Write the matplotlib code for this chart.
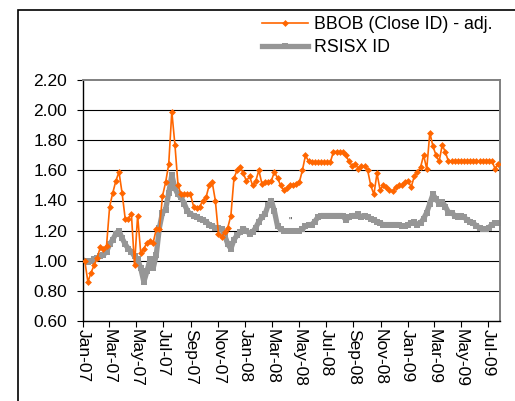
import matplotlib
matplotlib.use("Agg")
import matplotlib.pyplot as plt
from matplotlib.patches import Rectangle
import pandas as pd

plt.rcParams['font.family'] = ['Liberation Sans', 'DejaVu Sans']

# weekly observations
start_date = "2007-01-05"
n_weeks = 134

bbob = [1.00, 0.86, 0.92, 0.97, 1.02, 1.09, 1.08, 1.10, 1.36, 1.45,
        1.53, 1.59, 1.45, 1.28, 1.28, 1.31, 0.97, 1.30, 1.05, 1.08,
        1.12, 1.13, 1.12, 1.21, 1.21, 1.43, 1.52, 1.64, 1.99, 1.77,
        1.50, 1.44, 1.44, 1.44, 1.44, 1.36, 1.35, 1.36, 1.40, 1.42,
        1.50, 1.52, 1.40, 1.18, 1.16, 1.19, 1.22, 1.30, 1.55, 1.60,
        1.62, 1.58, 1.53, 1.56, 1.50, 1.53, 1.60, 1.51, 1.52, 1.52,
        1.53, 1.59, 1.55, 1.50, 1.47, 1.48, 1.50, 1.50, 1.51, 1.52,
        1.60, 1.70, 1.66, 1.655, 1.655, 1.655, 1.655, 1.655, 1.655, 1.655,
        1.725, 1.725, 1.72, 1.72, 1.70, 1.66, 1.63, 1.645, 1.61, 1.63,
        1.63, 1.60, 1.50, 1.44, 1.58, 1.47, 1.50, 1.49, 1.47, 1.46,
        1.49, 1.50, 1.50, 1.52, 1.53, 1.49, 1.56, 1.59, 1.62, 1.70,
        1.61, 1.85, 1.76, 1.70, 1.66, 1.77, 1.72, 1.66, 1.66, 1.66,
        1.66, 1.66, 1.66, 1.66, 1.66, 1.66, 1.66, 1.66, 1.66, 1.66,
        1.66, 1.66, 1.61, 1.645]

rsisx = [1.00, 0.99, 1.00, 1.01, 1.02, 1.03, 1.04, 1.06, 1.11, 1.14,
         1.18, 1.20, 1.15, 1.11, 1.08, 1.06, 1.03, 1.01, 0.95, 0.86,
         0.93, 1.01, 0.95, 1.04, 1.22, 1.32, 1.34, 1.45, 1.57, 1.48,
         1.44, 1.42, 1.38, 1.33, 1.31, 1.30, 1.29, 1.28, 1.27, 1.26,
         1.24, 1.23, 1.22, 1.22, 1.21, 1.17, 1.11, 1.08, 1.14, 1.17,
         1.19, 1.21, 1.20, 1.18, 1.19, 1.22, 1.26, 1.29, 1.31, 1.37,
         1.40, 1.33, 1.23, 1.21, 1.20, 1.20, 1.20, 1.20, 1.20, 1.20,
         1.21, 1.23, 1.24, 1.24, 1.26, 1.29, 1.30, 1.30, 1.30, 1.30,
         1.30, 1.30, 1.30, 1.30, 1.27, 1.29, 1.30, 1.30, 1.31, 1.29,
         1.30, 1.29, 1.28, 1.27, 1.26, 1.25, 1.24, 1.24, 1.24, 1.24,
         1.24, 1.24, 1.23, 1.23, 1.24, 1.25, 1.26, 1.24, 1.25, 1.28,
         1.32, 1.38, 1.44, 1.41, 1.38, 1.39, 1.36, 1.32, 1.32, 1.30,
         1.29, 1.30, 1.29, 1.27, 1.26, 1.25, 1.23, 1.22, 1.21, 1.21,
         1.22, 1.24, 1.25, 1.25]

series_names = ["BBOB (Close ID) - adj.", "RSISX ID"]
y_ticks = [0.60, 0.80, 1.00, 1.20, 1.40, 1.60, 1.80, 2.00, 2.20]
x_tick_start, x_tick_end = "2007-01-01", "2009-07-01"
x_min, x_max = "2007-01-01", "2009-07-28"

dates = pd.date_range(start_date, periods=n_weeks, freq="7D")

fig = plt.figure(figsize=(5.15, 4.01), dpi=100)
fig.patch.set_facecolor("white")

# outer chart frame
fig.patches.append(Rectangle((18 / 515, -0.2), 1.2, 1.2 - 10 / 401,
                             transform=fig.transFigure, fill=False,
                             edgecolor="black", linewidth=1.2, zorder=0))

ax = fig.add_axes([83 / 515, 1 - 321 / 401, (500 - 83) / 515, (321 - 80) / 401])

ax.set_ylim(0.60, 2.20)
ax.set_yticks(y_ticks)
ax.set_yticklabels([f"{v:.2f}" for v in y_ticks])
for v in y_ticks[1:-1]:
    ax.axhline(v, color="black", linewidth=0.8, zorder=1)

l2, = ax.plot(dates, rsisx, color="#969696", linewidth=3.8, marker="s",
              markersize=4.2, markeredgewidth=0, zorder=2, label=series_names[1])
l1, = ax.plot(dates, bbob, color="#FF6600", linewidth=1.2, marker="D",
              markersize=3.5, markeredgewidth=0, zorder=3, label=series_names[0])

ax.text(pd.Timestamp("2008-04-12"), 1.255, '"', fontsize=7, color="#404040",
        ha="center", va="center", zorder=4)

ticks = pd.date_range(x_tick_start, x_tick_end, freq="2MS")
ax.set_xticks(ticks)
ax.set_xticklabels([t.strftime("%b-%y") for t in ticks], rotation=270,
                   ha="center", va="top")
ax.set_xlim(pd.Timestamp(x_min), pd.Timestamp(x_max))

ax.tick_params(axis="y", direction="out", length=4.3, width=0.8, pad=7,
               labelsize=12.5, colors="black")
ax.tick_params(axis="x", direction="out", length=4, width=0.8, pad=1.5,
               labelsize=12.5, colors="black")

ax.spines["left"].set_color("black")
ax.spines["bottom"].set_color("black")
ax.spines["left"].set_linewidth(1.0)
ax.spines["bottom"].set_linewidth(1.0)
ax.spines["top"].set_color("#808080")
ax.spines["right"].set_color("#808080")
ax.spines["top"].set_linewidth(1.4)
ax.spines["right"].set_linewidth(1.4)

fig.legend(handles=[l1, l2], labels=series_names, loc="upper left",
           bbox_to_anchor=(262 / 515, 1 - 16 / 401), frameon=False,
           fontsize=12.8, handlelength=2.6, handletextpad=0.3,
           labelspacing=0.35, borderpad=0, borderaxespad=0, markerscale=1.0)

fig.savefig("out.png", dpi=100, facecolor="white")
